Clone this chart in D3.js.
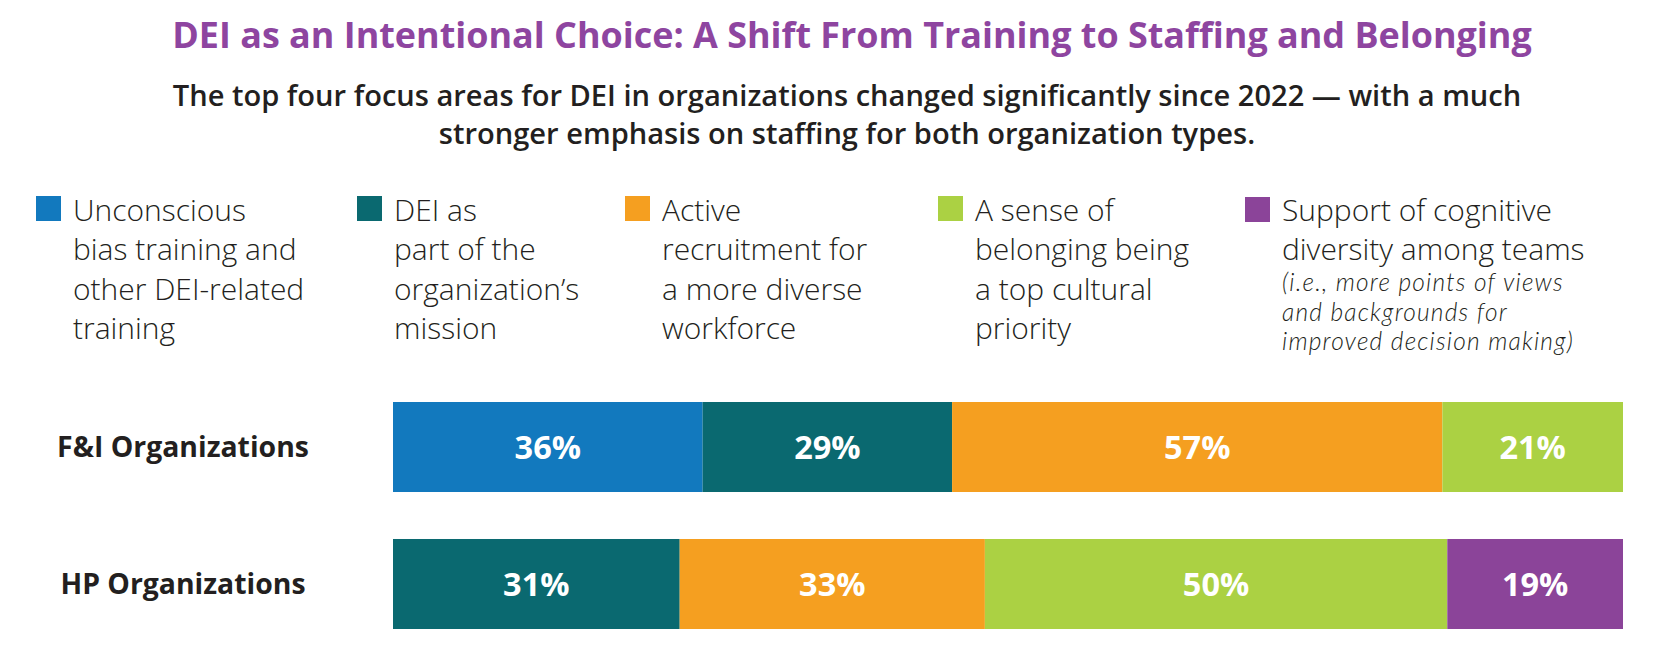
<!DOCTYPE html>
<html>
<head>
<meta charset="utf-8">
<script src="https://cdn.jsdelivr.net/npm/d3@7"></script>
<style>
  html, body { margin: 0; padding: 0; background: #ffffff; }
  svg { display: block; }
</style>
</head>
<body>
<svg id="chart" width="1658" height="650"></svg>
<script>
// ---------- data ----------
const titleText = "DEI as an Intentional Choice: A Shift From Training to Staffing and Belonging";
const subtitleLines = [
  "The top four focus areas for DEI in organizations changed significantly since 2022 \u2014 with a much",
  "stronger emphasis on staffing for both organization types."
];
const categories = [
  "Unconscious bias training and other DEI-related training",
  "DEI as part of the organization\u2019s mission",
  "Active recruitment for a more diverse workforce",
  "A sense of belonging being a top cultural priority",
  "Support of cognitive diversity among teams"
];
const legendLines = [
  ["Unconscious", "bias training and", "other DEI-related", "training"],
  ["DEI as", "part of the", "organization\u2019s", "mission"],
  ["Active", "recruitment for", "a more diverse", "workforce"],
  ["A sense of", "belonging being", "a top cultural", "priority"],
  ["Support of cognitive", "diversity among teams"]
];
const legendNote = ["(i.e., more points of views", "and backgrounds for", "improved decision making)"];
const rows = ["F&I Organizations", "HP Organizations"];
const fiValues = [36, 29, 57, 21, null];
const hpValues = [null, 31, 33, 50, 19];
const colors = ["#1279BE", "#0A6970", "#F59F20", "#ABD143", "#8B4499"];

// ---------- setup ----------
const svg = d3.select("#chart");
const FONT = "'Open Sans', 'Noto Sans', sans-serif";
const NOTE_FONT = "Lato, 'Open Sans', sans-serif";
const DARK = "#231F20";
svg.append("rect").attr("width", 1658).attr("height", 650).attr("fill", "#fff");

function fit(sel, target) {
  const fs = parseFloat(sel.attr("font-size"));
  const w = sel.node().getComputedTextLength();
  const nfs = fs * target / w;
  sel.attr("font-size", nfs);
  return nfs;
}

// title
const title = svg.append("text")
  .attr("x", 852).attr("y", 48).attr("text-anchor", "middle")
  .attr("font-family", FONT).attr("font-weight", 700).attr("font-size", 34)
  .attr("fill", "#8E45A0").text(titleText);
fit(title, 1360);

// subtitle
const sub1 = svg.append("text")
  .attr("x", 847).attr("y", 106).attr("text-anchor", "middle")
  .attr("font-family", FONT).attr("font-weight", 600).attr("font-size", 24)
  .attr("fill", DARK).text(subtitleLines[0]);
const subFs = fit(sub1, 1349);
svg.append("text")
  .attr("x", 847).attr("y", 144).attr("text-anchor", "middle")
  .attr("font-family", FONT).attr("font-weight", 600).attr("font-size", subFs)
  .attr("fill", DARK).text(subtitleLines[1]);

// ---------- legend ----------
const legendX = [36, 357, 625, 938, 1245];
const legendG = svg.append("g");
const probe = legendG.append("text").attr("font-family", FONT).attr("font-weight", 300)
  .attr("font-size", 24).text(legendLines[0][0]);
const legFs = fit(probe, 173);
probe.remove();

categories.forEach((cat, i) => {
  const g = legendG.append("g").attr("transform", `translate(${legendX[i]},0)`);
  g.append("rect").attr("x", 0).attr("y", i === 4 ? 197 : 196).attr("width", 25).attr("height", 25)
    .attr("fill", colors[i]);
  const t = g.append("text").attr("font-family", FONT).attr("font-weight", 300)
    .attr("font-size", legFs).attr("fill", DARK);
  legendLines[i].forEach((ln, j) => {
    t.append("tspan").attr("x", 37).attr("y", 221 + j * 39.3).text(ln);
  });
  if (i === 4) {
    const n = g.append("text").attr("font-family", NOTE_FONT).attr("font-weight", 300)
      .attr("font-style", "italic").attr("font-size", 24.5).attr("fill", DARK);
    legendNote.forEach((ln, j) => {
      n.append("tspan").attr("x", 37).attr("y", 291 + j * 29.6).text(ln);
    });
    const w0 = n.select("tspan").node().getComputedTextLength();
    if (w0 < 292) n.attr("letter-spacing", Math.min(1.2, (292 - w0) / (legendNote[0].length - 1)));
  }
});

// ---------- bars ----------
const y = d3.scaleBand().domain(rows).range([402, 629]).paddingInner(0.343).paddingOuter(0);
const rowData = [fiValues, hpValues];

rowData.forEach((vals, r) => {
  const items = vals.map((v, i) => ({ v, i })).filter(d => d.v != null);
  let acc = 0;
  items.forEach(d => { d.x0 = acc; acc += d.v; d.x1 = acc; });
  const x = d3.scaleLinear().domain([0, acc]).range([393, 1623]);
  const g = svg.append("g");
  g.selectAll("rect").data(items).join("rect")
    .attr("x", d => x(d.x0)).attr("width", d => x(d.x1) - x(d.x0))
    .attr("y", y(rows[r])).attr("height", y.bandwidth())
    .attr("fill", d => colors[d.i]);
  g.selectAll("text").data(items).join("text")
    .attr("x", d => (x(d.x0) + x(d.x1)) / 2)
    .attr("y", y(rows[r]) + y.bandwidth() / 2)
    .attr("dy", "0.36em")
    .attr("text-anchor", "middle")
    .attr("font-family", FONT).attr("font-weight", 700).attr("font-size", 32.5)
    .attr("fill", "#fff")
    .text(d => d.v + "%");
});

// row labels
const rl = svg.selectAll(".rowlab").data(rows).join("text").attr("class", "rowlab")
  .attr("x", 183).attr("y", d => y(d) + y.bandwidth() / 2)
  .attr("dy", "0.36em").attr("text-anchor", "middle")
  .attr("font-family", FONT).attr("font-weight", 700).attr("font-size", 24)
  .attr("fill", DARK).text(d => d);
const rlFs = fit(d3.select(rl.nodes()[0]), 252);
rl.attr("font-size", rlFs);
</script>
</body>
</html>
